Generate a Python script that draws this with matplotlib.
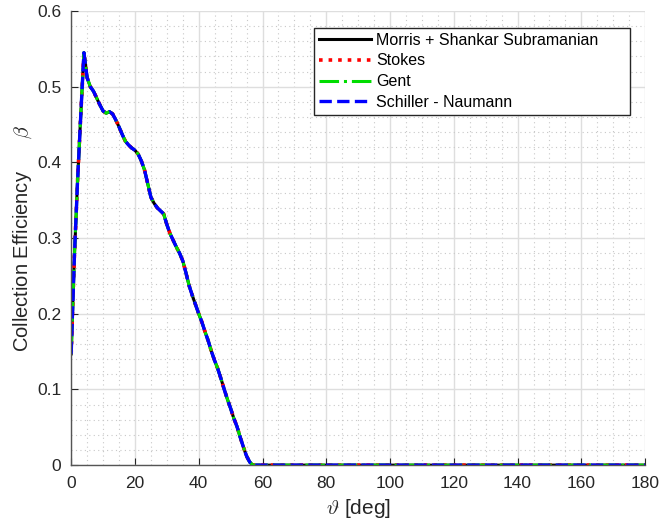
import matplotlib
matplotlib.use('Agg')
import matplotlib.pyplot as plt
from matplotlib.ticker import MultipleLocator

plt.rcParams['font.family'] = ['Liberation Sans', 'DejaVu Sans']
plt.rcParams['mathtext.fontset'] = 'cm'

# impingement angle [deg]
theta = [0, 1, 2, 3, 4, 5, 6, 7, 8, 9, 10, 11, 12, 13, 14, 15, 16, 17, 18, 19,
         20, 21, 22, 23, 24, 25, 26, 27, 28, 29, 30, 31, 32, 33, 34, 35, 36, 37,
         38, 39, 40, 41, 42, 43, 44, 45, 46, 47, 48, 49, 50, 51, 52, 53, 54, 55,
         56, 57, 180]

# collection efficiency, one list per drag model
beta_morris = [0.147, 0.275, 0.375, 0.462, 0.545, 0.512, 0.500, 0.494, 0.485,
               0.476, 0.468, 0.465, 0.467, 0.464, 0.456, 0.447, 0.437, 0.428,
               0.423, 0.419, 0.416, 0.411, 0.402, 0.390, 0.372, 0.354, 0.346,
               0.340, 0.336, 0.332, 0.318, 0.306, 0.297, 0.288, 0.280, 0.270,
               0.254, 0.237, 0.224, 0.212, 0.200, 0.189, 0.176, 0.164, 0.150,
               0.138, 0.127, 0.114, 0.100, 0.087, 0.075, 0.062, 0.051, 0.037,
               0.024, 0.012, 0.004, 0.0, 0.0]
beta_stokes = list(beta_morris)
beta_gent = list(beta_morris)
beta_schiller = list(beta_morris)

fig = plt.figure(figsize=(6.59, 5.25), dpi=100)
ax = fig.add_subplot()
fig.subplots_adjust(left=0.108, right=0.979, bottom=0.114, top=0.979)

ax.plot(theta, beta_morris, '-', color='black', lw=2.2,
        label='Morris + Shankar Subramanian      ')
ax.plot(theta, beta_stokes, ':', color='red', lw=2.6, label='Stokes')
ax.plot(theta, beta_gent, '-.', color='#00dd00', lw=2.2, label='Gent')
ax.plot(theta, beta_schiller, '--', color='blue', lw=2.4,
        label='Schiller - Naumann')

ax.set_xlim(0, 180)
ax.set_ylim(0, 0.6)
ax.xaxis.set_major_locator(MultipleLocator(20))
ax.xaxis.set_minor_locator(MultipleLocator(5))
ax.yaxis.set_minor_locator(MultipleLocator(0.02))
ax.set_yticks([0, 0.1, 0.2, 0.3, 0.4, 0.5, 0.6])
ax.set_yticklabels(['0', '0.1', '0.2', '0.3', '0.4', '0.5', '0.6'])

ax.grid(which='major', color='#dedede', lw=1, linestyle='-')
ax.grid(which='minor', color='#c8c8c8', lw=0.8, linestyle=(0, (1, 3)))
ax.set_axisbelow(True)

for side in ['top', 'right']:
    ax.spines[side].set_visible(False)
for side in ['left', 'bottom']:
    ax.spines[side].set_color('#555555')
    ax.spines[side].set_linewidth(1)

ax.tick_params(which='major', direction='in', length=5, labelsize=12.5,
               colors='#262626')
ax.tick_params(axis='x', which='major', pad=8)
ax.tick_params(axis='y', which='major', pad=7)
ax.tick_params(which='minor', length=0)

ax.set_xlabel(r'$\vartheta$ [deg]', fontsize=15, color='#262626', labelpad=4)
ax.set_ylabel(r'Collection Efficiency      $\beta$', fontsize=14.5,
              color='#262626', labelpad=2)

leg = ax.legend(loc='upper right', bbox_to_anchor=(0.974, 0.963),
                borderaxespad=0, fontsize=11.5,
                fancybox=False, framealpha=1, edgecolor='#262626',
                handlelength=3.3, handletextpad=0.3, borderpad=0.3,
                labelspacing=0.36)
leg.get_frame().set_linewidth(1)

fig.savefig('out.png')
